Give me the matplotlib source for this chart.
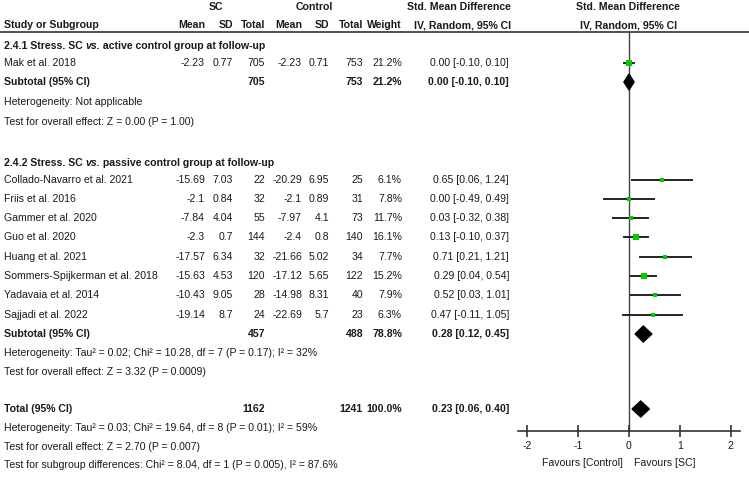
import matplotlib
matplotlib.use("Agg")
import matplotlib.pyplot as plt
from matplotlib.patches import Polygon

plt.rcParams['font.family'] = ['Liberation Sans', 'DejaVu Sans']
plt.rcParams['axes.unicode_minus'] = False
FS = 7.6
INK = '#1a1a1a'
GREEN = '#00cc00'

# subgroup 1 (active control)
g1_studies = ['Mak et al. 2018']
g1_sc_mean = [-2.23]
g1_sc_sd = [0.77]
g1_sc_n = [705]
g1_ct_mean = [-2.23]
g1_ct_sd = [0.71]
g1_ct_n = [753]
g1_weight = [21.2]
g1_smd = [0.00]
g1_lo = [-0.10]
g1_hi = [0.10]

# subgroup 2 (passive control)
g2_studies = ['Collado-Navarro et al. 2021', 'Friis et al. 2016', 'Gammer et al. 2020',
              'Guo et al. 2020', 'Huang et al. 2021', 'Sommers-Spijkerman et al. 2018',
              'Yadavaia et al. 2014', 'Sajjadi et al. 2022']
g2_sc_mean = [-15.69, -2.1, -7.84, -2.3, -17.57, -15.63, -10.43, -19.14]
g2_sc_sd = [7.03, 0.84, 4.04, 0.7, 6.34, 4.53, 9.05, 8.7]
g2_sc_n = [22, 32, 55, 144, 32, 120, 28, 24]
g2_ct_mean = [-20.29, -2.1, -7.97, -2.4, -21.66, -17.12, -14.98, -22.69]
g2_ct_sd = [6.95, 0.89, 4.1, 0.8, 5.02, 5.65, 8.31, 5.7]
g2_ct_n = [25, 31, 73, 140, 34, 122, 40, 23]
g2_weight = [6.1, 7.8, 11.7, 16.1, 7.7, 15.2, 7.9, 6.3]
g2_smd = [0.65, 0.00, 0.03, 0.13, 0.71, 0.29, 0.52, 0.47]
g2_lo = [0.06, -0.49, -0.32, -0.10, 0.21, 0.04, 0.03, -0.11]
g2_hi = [1.24, 0.49, 0.38, 0.37, 1.21, 0.54, 1.01, 1.05]

# pooled results
pooled_labels = ['Subtotal (95% CI)', 'Subtotal (95% CI)', 'Total (95% CI)']
pooled_sc_n = [705, 457, 1162]
pooled_ct_n = [753, 488, 1241]
pooled_weight = [21.2, 78.8, 100.0]
pooled_smd = [0.00, 0.28, 0.23]
pooled_lo = [-0.10, 0.12, 0.06]
pooled_hi = [0.10, 0.45, 0.40]

g1_notes = ['Heterogeneity: Not applicable',
            'Test for overall effect: Z = 0.00 (P = 1.00)']
g2_notes = ['Heterogeneity: Tau\u00b2 = 0.02; Chi\u00b2 = 10.28, df = 7 (P = 0.17); I\u00b2 = 32%',
            'Test for overall effect: Z = 3.32 (P = 0.0009)']
tot_notes = ['Heterogeneity: Tau\u00b2 = 0.03; Chi\u00b2 = 19.64, df = 8 (P = 0.01); I\u00b2 = 59%',
             'Test for overall effect: Z = 2.70 (P = 0.007)',
             'Test for subgroup differences: Chi\u00b2 = 8.04, df = 1 (P = 0.005), I\u00b2 = 87.6%']

ticks = [-2, -1, 0, 1, 2]

# layout (pixel rows / columns)
W, H = 749, 480
y_g1_title = 46
y_g1_rows = [63]
y_g1_sub = 82
y_g1_notes = [102, 122]
y_g2_title = 163
y_g2_rows = [180, 199, 218, 237, 257, 276, 295, 315]
y_g2_sub = 334
y_g2_notes = [353, 372]
y_tot = 409
y_tot_notes = [428, 447, 465]
rule_y = 32
axis_y = 431

col_x = dict(sc_mean=205, sc_sd=233, sc_n=265, ct_mean=302, ct_sd=329, ct_n=363, w=402, ci=509)

fig = plt.figure(figsize=(W / 100, H / 100), dpi=100)
bg = fig.add_axes([0, 0, 1, 1])
bg.set_xlim(0, W)
bg.set_ylim(H, 0)
bg.axis('off')


def txt(x, y, s, ha='left', bold=False, **kw):
    return bg.text(x, y, s, ha=ha, va='center', fontsize=FS, color=INK,
                   fontweight='bold' if bold else 'normal', **kw)


def ci_str(m, lo, hi):
    return '%.2f [%.2f, %.2f]' % (m, lo, hi)


# header
txt(216, 7, 'SC', ha='center', bold=True)
txt(314, 7, 'Control', ha='center', bold=True)
txt(459, 7, 'Std. Mean Difference', ha='center', bold=True)
txt(628, 7, 'Std. Mean Difference', ha='center', bold=True)
txt(4, 25, 'Study or Subgroup', bold=True)
for key, lab in [('sc_mean', 'Mean'), ('sc_sd', 'SD'), ('sc_n', 'Total'),
                 ('ct_mean', 'Mean'), ('ct_sd', 'SD'), ('ct_n', 'Total'), ('w', 'Weight')]:
    txt(col_x[key], 25, lab, ha='right', bold=True)
txt(col_x['ci'] + 2, 25, 'IV, Random, 95% CI', ha='right', bold=True)
txt(629, 25, 'IV, Random, 95% CI', ha='center', bold=True)
bg.plot([0, W], [rule_y, rule_y], color='#333333', lw=1.2)


def title(y, grp, rest):
    t1 = txt(4, y, '2.4.%d Stress. SC ' % grp, bold=True)
    t2 = bg.annotate('vs.', xy=(1, 0), xycoords=t1, ha='left', va='bottom',
                     fontsize=FS, color=INK, fontweight='bold', fontstyle='italic')
    bg.annotate(' ' + rest, xy=(1, 0), xycoords=t2, ha='left', va='bottom',
                fontsize=FS, color=INK, fontweight='bold')


def study_rows(ys, names, scm, scs, scn, ctm, cts, ctn, w, m, lo, hi):
    for i, y in enumerate(ys):
        txt(4, y, names[i])
        txt(col_x['sc_mean'], y, str(scm[i]), ha='right')
        txt(col_x['sc_sd'], y, str(scs[i]), ha='right')
        txt(col_x['sc_n'], y, str(scn[i]), ha='right')
        txt(col_x['ct_mean'], y, str(ctm[i]), ha='right')
        txt(col_x['ct_sd'], y, str(cts[i]), ha='right')
        txt(col_x['ct_n'], y, str(ctn[i]), ha='right')
        txt(col_x['w'], y, '%.1f%%' % w[i], ha='right')
        txt(col_x['ci'], y, ci_str(m[i], lo[i], hi[i]), ha='right')


def pooled_row(y, k):
    txt(4, y, pooled_labels[k], bold=True)
    txt(col_x['sc_n'], y, str(pooled_sc_n[k]), ha='right', bold=True)
    txt(col_x['ct_n'], y, str(pooled_ct_n[k]), ha='right', bold=True)
    txt(col_x['w'], y, '%.1f%%' % pooled_weight[k], ha='right', bold=True)
    txt(col_x['ci'], y, ci_str(pooled_smd[k], pooled_lo[k], pooled_hi[k]), ha='right', bold=True)


title(y_g1_title, 1, 'active control group at follow-up')
study_rows(y_g1_rows, g1_studies, g1_sc_mean, g1_sc_sd, g1_sc_n, g1_ct_mean, g1_ct_sd,
           g1_ct_n, g1_weight, g1_smd, g1_lo, g1_hi)
pooled_row(y_g1_sub, 0)
for y, s in zip(y_g1_notes, g1_notes):
    txt(4, y, s)

title(y_g2_title, 2, 'passive control group at follow-up')
study_rows(y_g2_rows, g2_studies, g2_sc_mean, g2_sc_sd, g2_sc_n, g2_ct_mean, g2_ct_sd,
           g2_ct_n, g2_weight, g2_smd, g2_lo, g2_hi)
pooled_row(y_g2_sub, 1)
for y, s in zip(y_g2_notes, g2_notes):
    txt(4, y, s)

pooled_row(y_tot, 2)
for y, s in zip(y_tot_notes, tot_notes):
    txt(4, y, s)

# forest panel
x0, x1 = 518, 740
ax = fig.add_axes([x0 / W, (H - axis_y) / H, (x1 - x0) / W, (axis_y - rule_y) / H])
ax.patch.set_alpha(0)
ax.set_xlim(-2.18, 2.18)
ax.set_ylim(axis_y, rule_y)
for s in ['left', 'right', 'top']:
    ax.spines[s].set_visible(False)
ax.spines['bottom'].set_color('#333333')
ax.spines['bottom'].set_linewidth(1.2)
ax.set_yticks([])
ax.set_xticks(ticks)
ax.set_xticklabels([str(t) for t in ticks])
ax.tick_params(axis='x', direction='inout', length=9, width=1.2, color='#333333',
               labelsize=FS, labelcolor=INK, pad=2.5)
ax.axvline(0, color='#444444', lw=1.0, zorder=1)

all_y = y_g1_rows + y_g2_rows
all_m = g1_smd + g2_smd
all_lo = g1_lo + g2_lo
all_hi = g1_hi + g2_hi
all_w = g1_weight + g2_weight
for y, m, lo, hi, w in zip(all_y, all_m, all_lo, all_hi, all_w):
    ax.plot([lo, hi], [y, y], color='#222222', lw=1.4, zorder=2)
    side = 1.3 * w ** 0.5
    ax.plot([m], [y], marker='s', ms=side * 0.72, color=GREEN, mec=GREEN, mew=0, zorder=3)

for y, m, lo, hi in zip([y_g1_sub, y_g2_sub, y_tot], pooled_smd, pooled_lo, pooled_hi):
    h = 8
    ax.add_patch(Polygon([(lo, y), (m, y - h), (hi, y), (m, y + h)], closed=True,
                         color='black', zorder=4))

txt(623, 463, 'Favours [Control]', ha='right')
txt(634, 463, 'Favours [SC]', ha='left')

fig.savefig('out.png', dpi=100)
